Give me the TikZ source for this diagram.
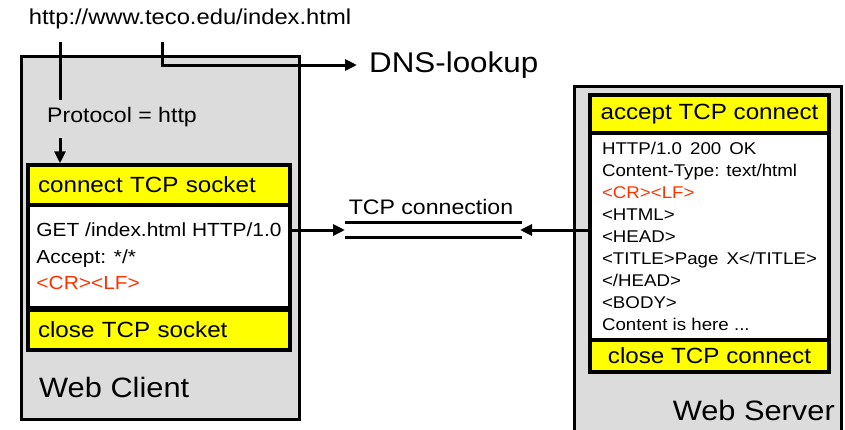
\documentclass[tikz,border=0pt]{standalone}
\usepackage{fontspec}
\setmainfont{Liberation Sans}[FakeStretch=1.1]
\usetikzlibrary{arrows.meta}
\definecolor{panelgray}{HTML}{DCDCDC}
\definecolor{marker}{HTML}{FFFF00}
\definecolor{crlf}{HTML}{FF3300}
\newcommand{\fsz}[2]{\fontsize{#1}{#2}\selectfont}
\begin{document}
\begin{tikzpicture}[x=1pt,y=-1pt,
  panel/.style={draw=black, line width=3pt, fill=panelgray, inner sep=0pt},
  band/.style={draw=black, line width=3.5pt, fill=marker, inner ysep=0pt, font=\fsz{22}{26}},
  msg/.style={draw=black, line width=3.5pt, fill=white, inner sep=0pt, align=left},
  label/.style={inner sep=0pt},
  wire/.style={line width=3pt},
  tip/.style={-{Triangle[length=12pt,width=11pt]}}]
\useasboundingbox (0,0) rectangle (845,429);
\clip (0,0) rectangle (845,429);

% ---------- client side ----------
\node[panel, minimum width=278, minimum height=363, anchor=north west] (client) at (20,55) {};
\node[band, minimum width=262, minimum height=40, text width=242, inner xsep=10pt, align=left] (connect) at (159,185) {connect TCP socket};
\node[msg, minimum width=262, minimum height=103, font=\fsz{19}{26.5}] (request) at (159,256.5)
  {GET /index.html HTTP/1.0\\ Accept: */*\\ \textcolor{crlf}{<CR><LF>}};
\node[band, minimum width=262, minimum height=40, text width=242, inner xsep=10pt, align=left] (close) at (159,330) {close TCP socket};
\node[label, anchor=west, font=\fsz{28}{32}] (clientname) at (39,387) {Web Client};

% ---------- URL, protocol and DNS ----------
\node[label, font=\fsz{21.6}{24}] (url) at (190,19) {http://www.teco.edu/index.html};
\node[label, font=\fsz{21}{24}] (proto) at (122,117) {Protocol = http};
\node[label, anchor=west, inner xsep=12pt, font=\fsz{28.5}{32}] (dns) at (357,65) {DNS-lookup};
\coordinate (schemeTap) at (60,42);
\coordinate (schemeEnd) at (60,100);
\coordinate (protoOut) at (60,138);
\coordinate (hostTap) at (162,42);
\draw[wire] (schemeTap) -- (schemeEnd);
\draw[wire,tip] (protoOut) -- (connect.north -| protoOut);
\draw[wire,tip] (hostTap) |- (dns.west);

% ---------- server side ----------
\node[panel, minimum width=267, minimum height=370, anchor=north west] (server) at (573,85) {};
\node[band, minimum width=239, minimum height=38] (accept) at (709.5,114) {accept TCP connect};
\node[msg, minimum width=239, minimum height=207, font=\fsz{17}{22}] (response) at (709.5,236.5)
  {HTTP/1.0\, 200\, OK\\ Content-Type: text/html\\ \textcolor{crlf}{<CR><LF>}\\ <HTML>\\ <HEAD>\\
   <TITLE>Page\, X</TITLE>\\ </HEAD>\\ <BODY>\\ Content is here ...};
\node[band, minimum width=239, minimum height=32] (sclose) at (709.5,356) {close TCP connect};
\node[label, anchor=east, font=\fsz{28}{32}] (servername) at (835,410) {Web Server};

% ---------- TCP connection ----------
\node[label, font=\fsz{21}{24}] (tcp) at (431,207) {TCP connection};
\coordinate (tcpL) at (345,230);
\coordinate (tcpR) at (520,230);
\coordinate (railTopL) at (345,222);
\coordinate (railTopR) at (522,222);
\coordinate (railBotL) at (345,237);
\coordinate (railBotR) at (522,237);
\draw[wire] (railTopL) -- (railTopR);
\draw[wire] (railBotL) -- (railBotR);
\draw[wire,tip] (request.east |- tcpL) -- (tcpL);
\draw[wire,tip] (response.west |- tcpR) -- (tcpR);
\end{tikzpicture}
\end{document}
